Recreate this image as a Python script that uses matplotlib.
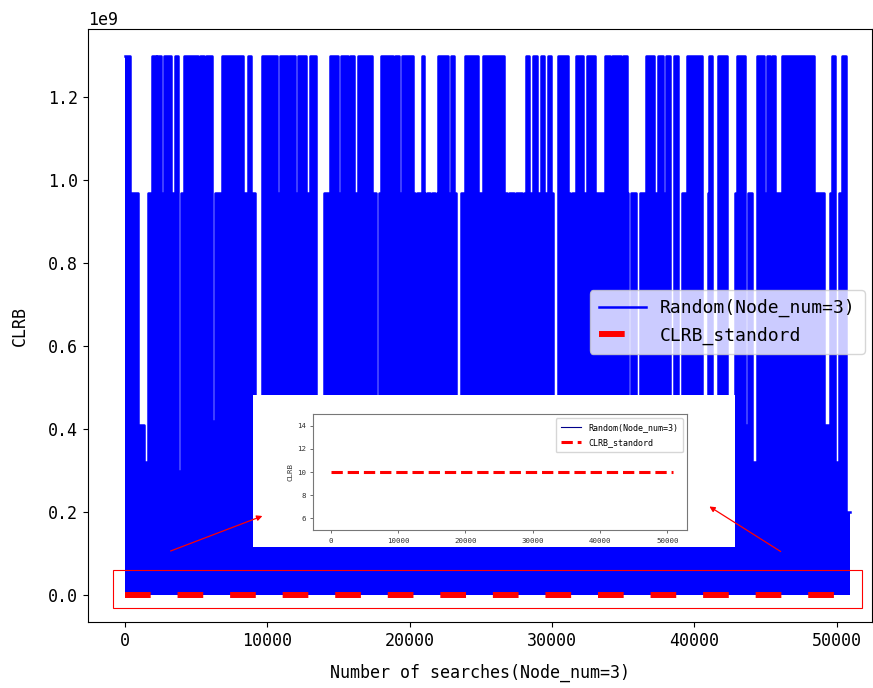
import numpy as np
import matplotlib
matplotlib.use("Agg")
import matplotlib.pyplot as plt
from matplotlib.patches import Rectangle, FancyArrowPatch

plt.rcParams['font.family'] = ['DejaVu Sans Mono', 'DejaVu Sans']

# envelope of the Random(Node_num=3) search trace: start of each run (searches) and its peak (x1e9)
run_start = [0, 351, 914, 1335, 1616, 1897, 2178, 2249, 2530, 2741, 3232, 3514, 3724, 3935, 4146,
             5130, 5270, 5551, 5692, 6113, 6324, 6816, 8292, 8643, 8854, 9135, 9627, 10681, 10892,
             11946, 12157, 12719, 13000, 13422, 13984, 14405, 14968, 15178, 15670, 15811, 16092,
             16373, 17357, 17638, 17849, 17989, 18832, 18973, 19254, 19465, 20238, 20378, 20519,
             20870, 21011, 21081, 21222, 21432, 21573, 21784, 21924, 21995, 22697, 22908, 23119,
             23259, 23611, 23892, 24805, 25157, 26632, 26843, 26984, 27335, 27476, 27897, 28038,
             28178, 28389, 28670, 28951, 29232, 29443, 29724, 29935, 30076, 30427, 31130, 31270,
             31411, 31692, 32184, 32465, 33027, 33730, 34081, 34221, 34854, 34994, 35275, 35346,
             35556, 35908, 36189, 36611, 37173, 37454, 37805, 38016, 38297, 38578, 38859, 39140,
             39492, 40546, 40967, 41038, 41248, 41670, 42302, 42865, 43005, 43567, 43778, 44059,
             44411, 44903, 45113, 45324, 45465, 45676, 46167, 48416, 49119, 49540, 49681, 49892,
             50173, 50384, 50665]
run_level = [1.30, 0.97, 0.41, 0.32, 0.97, 1.30, 0.97, 1.30, 0.97, 1.30, 0.97, 1.30, 0.30, 0.97, 1.30,
             0.97, 1.30, 0.97, 1.30, 0.42, 0.97, 1.30, 0.97, 1.30, 0.97, 0.30, 1.30, 0.97, 1.30,
             0.97, 1.30, 0.97, 1.30, 0.30, 0.97, 1.30, 0.97, 1.30, 0.97, 1.30, 0.97,
             1.30, 0.97, 0.30, 0.97, 1.30, 0.97, 1.30, 0.97, 1.30, 0.97, 0.30, 0.97,
             1.30, 0.97, 0.30, 0.97, 0.30, 0.97, 0.30, 0.97, 1.30, 0.97, 1.30, 0.97,
             0.30, 0.97, 1.30, 0.97, 1.30, 0.97, 0.30, 0.97, 0.30, 0.97, 0.30, 0.97,
             1.30, 0.97, 1.30, 0.97, 1.30, 0.97, 1.30, 0.97, 0.30, 1.30, 0.97, 0.30,
             0.97, 1.30, 0.97, 1.30, 0.97, 1.30, 0.97, 1.30, 0.97, 1.30, 0.97, 0.30,
             0.97, 0.30, 0.97, 1.30, 0.97, 1.30, 0.97, 1.30, 0.30, 1.30, 0.30, 0.97,
             1.30, 0.30, 0.97, 1.30, 0.30, 1.30, 0.30, 0.97, 1.30, 0.41, 0.97, 0.32,
             1.30, 0.97, 1.30, 0.97, 1.30, 0.97, 1.30, 0.97, 0.41, 0.97, 1.30, 0.32,
             0.97, 1.30, 0.20]
run_end = 50946

# CLRB standard line
std_x = [0, 50800]
std_y = [10, 10]

x_ticks = [0, 10000, 20000, 30000, 40000, 50000]
inset_yticks = [6, 8, 10, 12, 14]

xs = np.array(run_start + [run_end])
ys = np.array(run_level + [run_level[-1]]) * 1e9

fig = plt.figure(figsize=(8.73, 6.88), dpi=100)
ax = fig.add_axes([0.1008, 0.0959, 0.8981, 0.8619])

ax.fill_between(xs, 0, ys, step='post', color='blue', lw=0)
ax.step(xs, ys, where='post', color='blue', lw=1.8, label='Random(Node_num=3)')
ax.plot(std_x, std_y, color='red', lw=4.3, dashes=(4.3, 4.5), label='CLRB_standord')

ax.set_xlim(-2600, 52490)
ax.set_ylim(-0.065e9, 1.365e9)
ax.set_xticks(x_ticks)
ax.tick_params(labelsize=12)
ax.yaxis.get_offset_text().set_fontsize(12)
ax.set_xlabel('Number of searches(Node_num=3)', fontsize=12, labelpad=10)
ax.set_ylabel('CLRB', fontsize=12, labelpad=14)
ax.legend(loc='upper left', bbox_to_anchor=(0.64, 0.56), borderaxespad=0,
          fontsize=13, handlelength=2.6, framealpha=0.8, borderpad=0.5)

# red box around the bottom region
fig.add_artist(Rectangle((113 / 873, 1 - 608 / 688), 749 / 873, 38 / 688,
                         transform=fig.transFigure, fill=False, ec='red', lw=0.8))

# zoomed inset (white card + small axes)
card = fig.add_axes([0.2898, 0.2049, 0.5521, 0.2209])
card.set_facecolor('white')
card.set_xticks([])
card.set_yticks([])
for s in card.spines.values():
    s.set_visible(False)

ins = fig.add_axes([0.3589, 0.2297, 0.4284, 0.1682])
ins.step(xs, ys, where='post', color='darkblue', lw=0.8, label='Random(Node_num=3)')
ins.plot(std_x, std_y, color='red', lw=2.2, ls='--', label='CLRB_standord')
ins.set_xlim(-2550, 52950)
ins.set_ylim(5, 15)
ins.set_xticks(x_ticks)
ins.set_yticks(inset_yticks)
ins.tick_params(labelsize=5.4, colors='#333333', length=2, width=0.5)
ins.set_ylabel('CLRB', fontsize=5.4, color='#333333', labelpad=2)
for s in ins.spines.values():
    s.set_color('#777777')
    s.set_linewidth(0.8)
ins.legend(loc='upper right', fontsize=6, framealpha=0.8, handlelength=2.5,
           borderpad=0.6, labelspacing=0.7)

# arrows pointing at the inset
for (x0, y0), (x1, y1) in [((168, 552), (265, 515)), ((783, 553), (707, 505))]:
    fig.add_artist(FancyArrowPatch((x0 / 873, 1 - y0 / 688), (x1 / 873, 1 - y1 / 688),
                                   transform=fig.transFigure, arrowstyle='-|>',
                                   mutation_scale=8, color='red', lw=0.9))

fig.savefig('out.png', dpi=100)
